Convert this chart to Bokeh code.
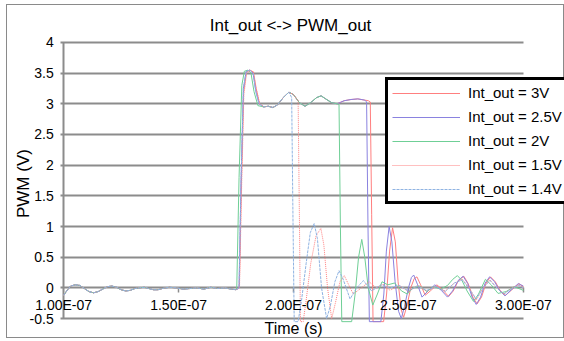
import numpy as np
from bokeh.plotting import figure
from bokeh.models import (FixedTicker, Legend, LegendItem, Label, LabelSet,
                          ColumnDataSource, Range1d, Grid)
from bokeh.core.properties import value
from bokeh.embed import file_html
from bokeh.resources import INLINE

NS = 1e-9  # times below are written in nanoseconds

# ---- shared baseline before the pulse (ns, V)
base_t = [100, 101.5, 103, 105, 107, 109, 111, 113, 115, 117, 119, 121, 123, 125, 127, 129,
          131, 133, 135, 137, 139, 141, 143, 146, 149, 152, 155, 158, 161, 164, 167, 170, 173, 175]
base_v = [-0.12, -0.04, 0.03, 0.05, 0.04, -0.01, -0.06, -0.08, -0.06, -0.02, 0.02, 0.03, 0.01,
          -0.03, -0.05, -0.04, -0.01, 0.0, 0.01, -0.01, -0.03, -0.03, -0.01, 0.01, 0.0, -0.02,
          -0.01, 0.0, -0.02, 0.01, -0.01, 0.0, -0.02, -0.03]

# ---- shared high plateau (ns, V)
plat_t = [187, 189, 191, 193, 195.5, 198, 200, 202.5, 205, 207.5, 210, 212, 214, 216.5, 219,
          222, 225, 228, 231]
plat_v = [2.95, 2.96, 2.94, 2.98, 3.1, 3.19, 3.15, 3.02, 2.96, 3.02, 3.1, 3.13, 3.08, 3.02, 3.0,
          3.05, 3.07, 3.08, 3.06]

# ---- Int_out = 3V
rise_3v_t = [176.4, 177.3, 178.3, 179.5, 181.0, 182.5, 183.7, 185.2]
rise_3v_v = [0.0, 1.7, 3.2, 3.52, 3.55, 3.52, 3.25, 3.0]
plat_3v_n = 19
tail_3v_t = [232.6, 233.4, 234.0, 234.6, 239.2, 240.5, 241.8, 243.1, 244.3, 245.5, 246.8, 247.9,
             249.3, 251.0, 252.5, 253.7, 255.3, 257.3, 259.5, 262.4, 264.8, 267.5, 269.5, 271.8,
             274.1, 276.0, 278.0, 279.9, 281.8, 283.8, 285.7, 287.8, 290.0, 292.3, 295.0, 298.1, 300.0]
tail_3v_v = [3.05, 3.03, 1.2, -0.55, -0.55, -0.1, 0.6, 0.98, 0.75, 0.1, -0.35, -0.48, -0.3, 0.0,
             0.15, 0.18, 0.05, -0.12, -0.05, 0.05, -0.03, -0.14, -0.05, 0.12, 0.19, 0.07, -0.15,
             -0.26, -0.15, 0.08, 0.18, 0.1, -0.05, -0.12, -0.03, 0.07, 0.02]

# ---- Int_out = 2.5V
rise_25v_t = [176.3, 177.2, 178.2, 179.4, 181.0, 182.4, 183.6, 185.0]
rise_25v_v = [0.0, 1.8, 3.25, 3.53, 3.55, 3.5, 3.2, 3.0]
plat_25v_n = 19
tail_25v_t = [231.8, 232.4, 233.0, 238.0, 239.3, 240.4, 241.6, 242.8, 244.2, 245.7, 246.9, 248.3,
              250.0, 251.3, 252.3, 254.0, 255.9, 258.5, 261.5, 264.3, 267.0, 269.2, 271.6, 273.8,
              275.8, 277.7, 279.5, 281.4, 283.4, 285.3, 287.5, 289.8, 292.0, 294.8, 297.8, 300.0]
tail_25v_v = [3.03, 1.0, -0.55, -0.55, -0.1, 0.6, 1.0, 0.75, 0.1, -0.38, -0.5, -0.3, 0.0, 0.17,
              0.21, 0.05, -0.15, -0.05, 0.05, -0.04, -0.15, -0.05, 0.12, 0.19, 0.07, -0.15, -0.27,
              -0.15, 0.08, 0.18, 0.1, -0.05, -0.13, -0.03, 0.07, 0.03]

# ---- Int_out = 2V
rise_2v_t = [175.3, 176.3, 177.5, 178.6, 180.2, 181.5, 182.8, 184.5]
rise_2v_v = [0.0, 1.8, 3.3, 3.53, 3.55, 3.5, 3.2, 2.97]
plat_2v_n = 15
tail_2v_t = [219.8, 220.4, 221.0, 225.3, 226.8, 228.3, 229.7, 231.0, 232.5, 234.5, 236.5, 238.5,
             241.0, 244.0, 247.0, 249.5, 252.0, 255.0, 258.0, 261.0, 264.0, 267.0, 269.3, 271.3,
             273.3, 275.5, 278.3, 280.5, 283.5, 286.0, 289.0, 292.5, 296.0, 300.0]
tail_2v_v = [2.99, 1.0, -0.55, -0.55, -0.1, 0.5, 0.79, 0.5, 0.0, -0.28, -0.1, 0.1, 0.05, 0.08,
             -0.05, -0.1, 0.0, 0.03, -0.06, 0.02, -0.02, 0.04, 0.14, 0.2, 0.12, -0.05, -0.22,
             -0.1, 0.14, 0.05, -0.09, -0.06, 0.02, -0.04]

# ---- Int_out = 1.5V
rise_15v_t = [176.5, 177.4, 178.4, 179.6, 181.2, 182.6, 183.8, 185.3]
rise_15v_v = [0.0, 1.6, 3.15, 3.5, 3.54, 3.52, 3.25, 3.0]
plat_15v_n = 7
tail_15v_t = [202.0, 202.6, 203.0, 204.2, 205.5, 207.5, 209.8, 211.9, 213.2, 214.8, 216.6, 218.2,
              220.2, 222.1, 224.0, 226.0, 229.5, 232.9, 236.0, 239.0, 242.0, 246.0, 250.0, 254.0,
              258.0, 262.0, 266.0, 270.0, 273.5, 276.5, 279.5, 282.5, 285.5, 288.5, 291.5, 295.0,
              298.0, 300.0]
tail_15v_v = [3.05, 1.0, -0.55, -0.55, -0.2, 0.4, 0.85, 0.97, 0.7, 0.0, -0.5, -0.25, 0.1, 0.2,
              0.05, -0.1, 0.0, 0.1, 0.0, 0.06, -0.04, 0.04, -0.06, 0.04, -0.05, 0.03, -0.05, 0.08,
              0.14, 0.0, -0.2, 0.0, 0.13, 0.0, -0.1, 0.0, 0.05, 0.01]

# ---- Int_out = 1.4V
rise_14v_t = [176.3, 177.2, 178.2, 179.4, 181.0, 182.4, 183.6, 185.0]
rise_14v_v = [0.0, 1.8, 3.25, 3.53, 3.55, 3.5, 3.2, 3.0]
plat_14v_n = 6
tail_14v_t = [199.2, 199.8, 200.3, 202.0, 203.5, 205.5, 207.3, 209.0, 210.4, 212.2, 214.4, 216.0,
              218.0, 219.8, 221.5, 224.6, 227.5, 230.4, 234.0, 238.0, 242.0, 246.0, 250.0, 254.0,
              258.0, 262.0, 266.0, 270.0, 273.5, 276.5, 279.5, 282.5, 285.5, 288.5, 291.5, 295.0,
              298.0, 300.0]
tail_14v_v = [3.1, 1.0, -0.55, -0.55, -0.2, 0.4, 0.9, 1.05, 0.8, 0.0, -0.5, -0.3, 0.1, 0.28, 0.15,
              -0.18, 0.0, 0.12, -0.05, 0.05, 0.0, 0.04, -0.05, 0.03, -0.04, 0.02, -0.06, 0.08,
              0.13, -0.02, -0.18, 0.0, 0.12, 0.0, -0.1, -0.01, 0.04, 0.0]

series_labels = ["Int_out = 3V", "Int_out = 2.5V", "Int_out = 2V", "Int_out = 1.5V", "Int_out = 1.4V"]
x_ticks = [1.0e-7, 1.5e-7, 2.0e-7, 2.5e-7, 3.0e-7]
x_tick_labels = ["1.00E-07", "1.50E-07", "2.00E-07", "2.50E-07", "3.00E-07"]
y_ticks = [-0.5, 0, 0.5, 1, 1.5, 2, 2.5, 3, 3.5, 4]
y_tick_labels = ["-0.5", "0", "0.5", "1", "1.5", "2", "2.5", "3", "3.5", "4"]

FONT = "Liberation Sans"
GRID = "#8c8c8c"

def build(rt, rv, n, tt, tv):
    t = base_t + rt + plat_t[:n] + tt
    v = base_v + rv + plat_v[:n] + tv
    return np.array(t) * NS, np.array(v)

series = [
    build(rise_3v_t, rise_3v_v, plat_3v_n, tail_3v_t, tail_3v_v),
    build(rise_25v_t, rise_25v_v, plat_25v_n, tail_25v_t, tail_25v_v),
    build(rise_2v_t, rise_2v_v, plat_2v_n, tail_2v_t, tail_2v_v),
    build(rise_15v_t, rise_15v_v, plat_15v_n, tail_15v_t, tail_15v_v),
    build(rise_14v_t, rise_14v_v, plat_14v_n, tail_14v_t, tail_14v_v),
]
styles = [
    dict(color="#ff7f7f", dash="solid"),
    dict(color="#8a82df", dash="solid"),
    dict(color="#6fcf96", dash="solid"),
    dict(color="#ff8080", dash="1 1"),
    dict(color="#8fb3e2", dash="3 1"),
]

# The frame covers the whole canvas; axis furniture is drawn inside it so that
# texts overlapping the plot area (as in the source chart) are not clipped.
p = figure(width=558, height=334, output_backend="svg", toolbar_location=None, title=None,
           x_range=Range1d(75.55e-9, 318.34e-9), y_range=Range1d(-0.841, 4.602),
           x_axis_location=None, y_axis_location=None,
           min_border_left=0, min_border_right=0, min_border_top=0, min_border_bottom=0,
           styles={"margin-left": "6px", "margin-top": "4px", "border": "1px solid #8a8a8a"})
p.outline_line_color = None
p.background_fill_color = "white"
p.border_fill_color = "white"
p.center = [r for r in p.center if not isinstance(r, Grid)]

# horizontal grid lines (also act as the x axis at 0)
p.add_layout(Grid(dimension=1, ticker=FixedTicker(ticks=y_ticks),
                  cross_bounds=(98.7e-9, 300e-9),
                  grid_line_color=GRID, grid_line_width=2))
# vertical value-axis line
p.add_layout(Grid(dimension=0, ticker=FixedTicker(ticks=[x_ticks[0]]),
                  cross_bounds=(-0.5, 4.0),
                  grid_line_color=GRID, grid_line_width=2))
# small tick marks under the zero line
p.add_layout(Grid(dimension=0, ticker=FixedTicker(ticks=x_ticks[1:]),
                  cross_bounds=(-0.07, 0.0),
                  grid_line_color=GRID, grid_line_width=1.5))

# y tick labels
ysrc = ColumnDataSource(dict(x=[x_ticks[0]] * len(y_ticks), y=y_ticks, text=y_tick_labels))
p.add_layout(LabelSet(x="x", y="y", text="text", source=ysrc, x_offset=-10,
                      text_align="right", text_baseline="middle",
                      text_font=value(FONT), text_font_size=value("14px"), text_color="black"))

# x tick labels sit just under the zero line, as in the source chart
xsrc = ColumnDataSource(dict(x=x_ticks, y=[0] * len(x_ticks), text=x_tick_labels))
p.add_layout(LabelSet(x="x", y="y", text="text", source=xsrc, y_offset=-17,
                      text_align="center", text_baseline="middle",
                      text_font=value(FONT), text_font_size=value("14px"), text_color="black"))

# titles
p.add_layout(Label(x=2.0e-7, y=4.27, x_offset=-3, text="Int_out <-> PWM_out",
                   text_align="center", text_baseline="middle", text_font=FONT,
                   text_font_size="17px", text_color="black"))
p.add_layout(Label(x=2.0e-7, y=-0.655, text="Time (s)", text_align="center",
                   text_baseline="middle", text_font=FONT, text_font_size="16px",
                   text_color="black"))
p.add_layout(Label(x=x_ticks[0], y=1.7, x_offset=-40, angle=np.pi / 2, text="PWM (V)",
                   text_align="center", text_baseline="middle", text_font=FONT,
                   text_font_size="17px", text_color="black"))

items = []
for (x, y), st, lab in zip(series, styles, series_labels):
    r = p.line(x, y, line_color=st["color"], line_width=1, line_dash=st["dash"])
    items.append(LegendItem(label=lab, renderers=[r]))

legend = Legend(items=items, location=(378, 135), orientation="vertical",
                border_line_color="black", border_line_width=3, border_line_alpha=1.0,
                background_fill_color="white", background_fill_alpha=1.0,
                padding=4, margin=0, spacing=7, label_height=16, glyph_height=16,
                glyph_width=68, label_standoff=8,
                label_text_font=FONT, label_text_font_size="15px", label_text_color="black")
p.add_layout(legend)

open("out.html", "w").write(file_html(p, INLINE))
